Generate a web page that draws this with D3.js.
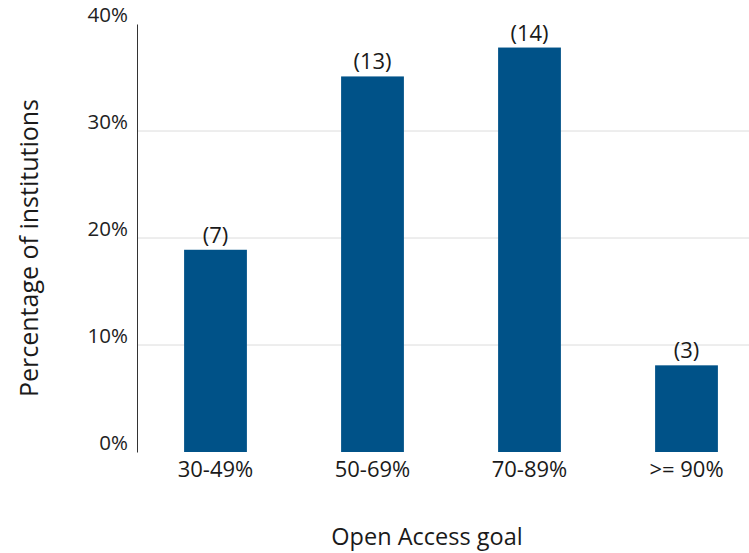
<!DOCTYPE html>
<html>
<head>
<meta charset="utf-8">
<script src="https://cdn.jsdelivr.net/npm/d3@7"></script>
<style>
  body { margin: 0; background: #fff; }
  svg { display: block; }
  text { font-family: "Open Sans", sans-serif; fill: #1a1a1a; }
</style>
</head>
<body>
<div class="graph"></div>
<script>
var categories = ['30-49%', '50-69%', '70-89%', '>= 90%'];
var counts = [7, 13, 14, 3];
var shares = [0.189, 0.351, 0.378, 0.081];
var yTicks = [0, 0.1, 0.2, 0.3, 0.4];

var width = 749, height = 553;

var svg = d3.select('.graph').append('svg')
    .attr('width', width)
    .attr('height', height);

var x = d3.scaleBand()
    .domain(categories)
    .range([137, 765])
    .paddingInner(0.6)
    .paddingOuter(0.3);

var y = d3.scaleLinear()
    .domain([0, 0.4])
    .range([452, 24]);

// gridlines
svg.selectAll('.grid')
  .data(yTicks.filter(function (d) { return d > 0 && d < 0.4; }))
  .enter().append('line')
    .attr('x1', 137).attr('x2', width)
    .attr('y1', function (d) { return y(d); })
    .attr('y2', function (d) { return y(d); })
    .style('stroke', '#dcdcdc');

// y axis
var yAxis = svg.append('g')
    .attr('transform', 'translate(137,0)')
    .call(d3.axisLeft(y).tickValues(yTicks).tickFormat(d3.format('.0%')).tickSize(0).tickPadding(9));
yAxis.select('.domain').style('stroke', '#333');
yAxis.selectAll('text')
    .style('font-size', '20.5px')
    .attr('dy', '-0.1em')
    .style('font-family', '"Open Sans", sans-serif')
    .style('fill', '#222');

// bars
svg.selectAll('.bar')
  .data(categories)
  .enter().append('rect')
    .attr('x', function (d) { return x(d); })
    .attr('width', x.bandwidth())
    .attr('y', function (d, i) { return y(shares[i]); })
    .attr('height', function (d, i) { return y(0) - y(shares[i]); })
    .style('fill', '#005288');

// count labels
svg.selectAll('.count')
  .data(categories)
  .enter().append('text')
    .attr('x', function (d) { return x(d) + x.bandwidth() / 2; })
    .attr('y', function (d, i) { return y(shares[i]) - 7; })
    .attr('text-anchor', 'middle')
    .style('font-size', '22px')
    .text(function (d, i) { return '(' + counts[i] + ')'; });

// x axis labels
var xAxis = svg.append('g')
    .attr('transform', 'translate(0,452)')
    .call(d3.axisBottom(x).tickSize(0).tickPadding(9));
xAxis.select('.domain').remove();
xAxis.selectAll('text')
    .style('font-size', '22px')
    .style('font-family', '"Open Sans", sans-serif')
    .style('fill', '#1a1a1a');

// axis titles
svg.append('text')
    .attr('x', 427).attr('y', 545)
    .attr('text-anchor', 'middle')
    .style('font-size', '23.5px')
    .text('Open Access goal');

svg.append('text')
    .attr('transform', 'translate(38,248) rotate(-90)')
    .attr('text-anchor', 'middle')
    .style('font-size', '25px')
    .text('Percentage of institutions');
</script>
</body>
</html>
